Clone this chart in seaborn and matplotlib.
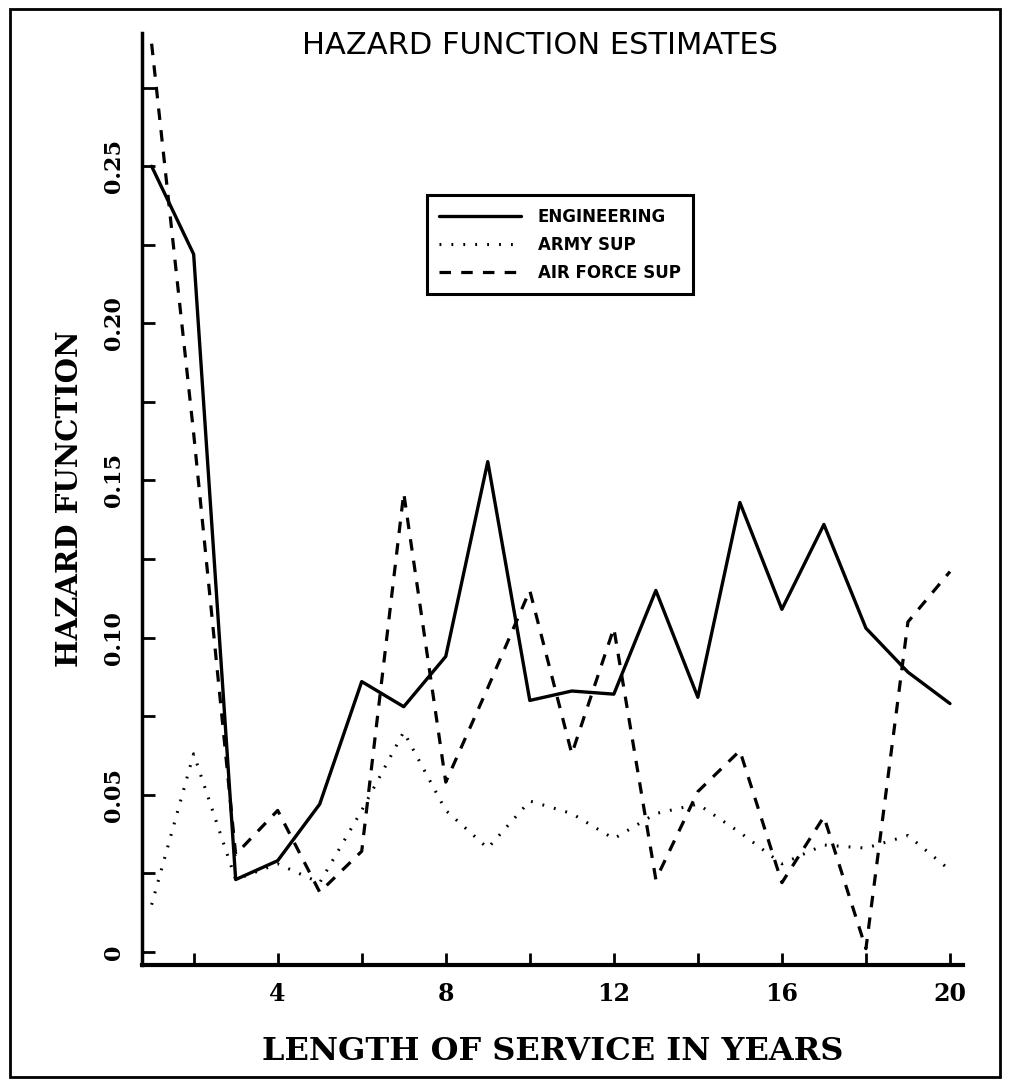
import pandas as pd
import matplotlib.pyplot as plt
import seaborn as sns
from matplotlib.patches import Rectangle
from matplotlib.ticker import FixedLocator, FixedFormatter

# Hazard estimates by year of service
years = list(range(1, 21))
engineering = [0.250, 0.222, 0.023, 0.029, 0.047, 0.086, 0.078, 0.094, 0.156, 0.080,
               0.083, 0.082, 0.115, 0.081, 0.143, 0.109, 0.136, 0.103, 0.089, 0.079]
army_sup = [0.015, 0.063, 0.023, 0.028, 0.022, 0.045, 0.070, 0.045, 0.033, 0.048,
            0.044, 0.036, 0.044, 0.047, 0.038, 0.028, 0.034, 0.033, 0.037, 0.026]
air_force_sup = [0.289, 0.165, 0.031, 0.045, 0.019, 0.032, 0.146, 0.054, 0.084, 0.115,
                 0.063, 0.103, 0.023, 0.051, 0.064, 0.022, 0.043, 0.001, 0.105, 0.121]

series = ["ENGINEERING", "ARMY SUP", "AIR FORCE SUP"]
df = pd.DataFrame({"year": years * 3,
                   "hazard": engineering + army_sup + air_force_sup,
                   "group": [s for s in series for _ in years]})

sns.set_style("ticks")
plt.rcParams.update({"text.color": "black", "axes.labelcolor": "black",
                     "xtick.color": "black", "ytick.color": "black"})

fig = plt.figure(figsize=(10.09, 10.86), dpi=100)
ax = fig.add_axes([0.1407, 0.1114, 0.8137, 0.8582])

styles = {"ENGINEERING": ("-", 2.4),
          "ARMY SUP": ((0, (0.6, 3.3)), 2.2),
          "AIR FORCE SUP": ((0, (3.6, 3.2)), 2.3)}
for name in series:
    ls, lw = styles[name]
    sns.lineplot(data=df[df["group"] == name], x="year", y="hazard", ax=ax,
                 color="black", linestyle=ls, lw=lw, label=name)

ax.set_xlim(0.77, 20.31)
ax.set_ylim(-0.0042, 0.2924)

ax.xaxis.set_major_locator(FixedLocator([4, 8, 12, 16, 20]))
ax.xaxis.set_minor_locator(FixedLocator([2, 6, 10, 14, 18]))
ax.yaxis.set_major_locator(FixedLocator([0, 0.05, 0.10, 0.15, 0.20, 0.25]))
ax.yaxis.set_major_formatter(FixedFormatter(["0", "0.05", "0.10", "0.15", "0.20", "0.25"]))
ax.yaxis.set_minor_locator(FixedLocator([0.025, 0.075, 0.125, 0.175, 0.225, 0.275]))

ax.tick_params(axis="both", which="both", direction="in", length=9, width=2, color="black")
ax.tick_params(axis="x", labelsize=17, pad=12)
ax.tick_params(axis="y", labelsize=16, pad=12)
for lab in ax.get_xticklabels():
    lab.set_fontfamily("DejaVu Serif")
    lab.set_fontweight("bold")
for lab in ax.get_yticklabels():
    lab.set_fontfamily("DejaVu Serif")
    lab.set_fontweight("bold")
    lab.set_rotation(90)
    lab.set_va("center")

sns.despine(ax=ax)
ax.spines["left"].set_linewidth(2.5)
ax.spines["bottom"].set_linewidth(3)
ax.spines["left"].set_color("black")
ax.spines["bottom"].set_color("black")

ax.set_xlabel("LENGTH OF SERVICE IN YEARS", fontsize=23, fontfamily="DejaVu Serif",
              fontweight="bold", labelpad=22)
ax.set_ylabel("HAZARD FUNCTION", fontsize=21, fontfamily="DejaVu Serif",
              fontweight="bold", labelpad=14)
fig.text(540 / 1009, 1 - 46 / 1086, "HAZARD FUNCTION ESTIMATES", fontsize=22,
         fontfamily="DejaVu Sans", ha="center", va="center")

leg = ax.legend(loc="upper left", bbox_to_anchor=(0.347, 0.826), borderaxespad=0,
                frameon=True, fancybox=False, edgecolor="black", framealpha=1,
                handlelength=4.9, borderpad=0.75, labelspacing=0.6, handletextpad=1.0,
                prop={"family": "DejaVu Sans", "weight": "bold", "size": 12})
leg.get_frame().set_linewidth(2.2)

# outer frame around the whole figure
fig.patches.append(Rectangle((10 / 1009, 1 - 1077 / 1086), 990 / 1009, 1068 / 1086,
                             transform=fig.transFigure, fill=False,
                             edgecolor="black", lw=2))

plt.savefig("out.png", dpi=100)
